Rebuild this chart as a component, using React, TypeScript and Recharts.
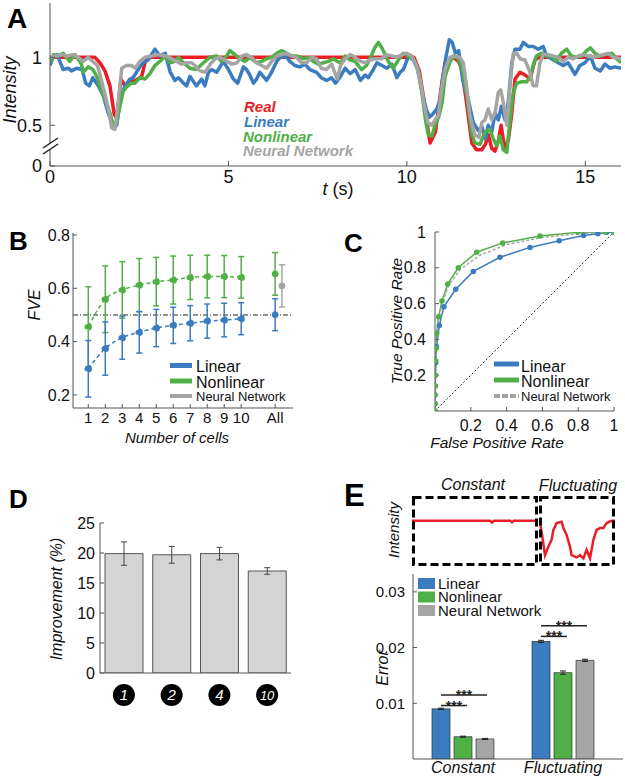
import React from "react";
import {
  BarChart,
  Bar,
  ComposedChart,
  ErrorBar,
  Line,
  LineChart,
  ReferenceLine,
  XAxis,
  YAxis,
} from "recharts";

const FONT = '"Liberation Sans", Arial, Helvetica, sans-serif';
const FRAME = "#555";
const INK = "#111";
const RED = "#ea1d25";
const BLUE = "#3b7cc0";
const GREEN = "#50b047";
const GRAY = "#a5a5a5";

// ---- A: decoded intensity traces, [time (s), intensity]
const traceTicks = [0, 5, 10, 15];

const realTrace = [
  [0, 1], [1.26, 1], [1.4, 0.96], [1.54, 0.9], [1.68, 0.79], [1.8, 0.58], [1.87, 0.55], [1.93, 0.7],
  [1.99, 0.84], [2.1, 0.79], [2.24, 0.82], [2.4, 0.83], [2.57, 0.86], [2.66, 0.96], [2.76, 1], [10.2, 1],
  [10.35, 0.9], [10.47, 0.7], [10.55, 0.54], [10.65, 0.37], [10.8, 0.45], [10.97, 0.79], [11.07, 0.96],
  [11.3, 1], [11.45, 0.97], [11.54, 0.91], [11.67, 0.67], [11.82, 0.37], [11.95, 0.32], [12.1, 0.32],
  [12.2, 0.36], [12.28, 0.43], [12.38, 0.33], [12.47, 0.31], [12.56, 0.38], [12.64, 0.5], [12.7, 0.4],
  [12.75, 0.32], [12.85, 0.4], [12.94, 0.59], [13.03, 0.84], [13.17, 0.89], [13.31, 0.87], [13.45, 0.84],
  [13.59, 0.98], [13.7, 1], [16, 1],
];

const linearTrace = [
  [0, 0.94], [0.1, 1.01], [0.2, 1.02], [0.37, 0.91], [0.51, 0.92], [0.6, 0.9], [0.75, 0.92], [0.9, 0.91],
  [1.0, 0.81], [1.1, 0.79], [1.2, 0.85], [1.33, 0.8], [1.49, 0.72], [1.63, 0.59], [1.77, 0.5], [1.87, 0.5],
  [1.96, 0.69], [2.1, 0.79], [2.24, 0.84], [2.33, 0.85], [2.47, 0.91], [2.61, 0.96], [2.75, 0.98],
  [2.94, 1.06], [3.08, 1.01], [3.23, 1.03], [3.37, 0.89], [3.5, 0.83], [3.6, 0.85], [3.74, 0.81],
  [3.83, 0.79], [3.92, 0.86], [4.1, 0.79], [4.25, 0.84], [4.34, 0.79], [4.44, 0.89], [4.53, 0.91],
  [4.67, 0.89], [4.86, 0.97], [5.0, 0.91], [5.14, 0.84], [5.26, 0.81], [5.42, 0.93], [5.51, 0.91],
  [5.6, 0.87], [5.7, 0.81], [5.79, 0.84], [5.88, 0.89], [6.07, 0.83], [6.21, 0.89], [6.35, 0.97],
  [6.49, 1.01], [6.63, 1.0], [6.72, 0.97], [6.86, 0.94], [7.0, 0.93], [7.14, 0.95], [7.28, 0.91],
  [7.47, 0.89], [7.6, 0.85], [7.75, 0.83], [7.89, 0.85], [8.0, 0.81], [8.14, 0.86], [8.27, 0.92],
  [8.41, 0.88], [8.55, 0.91], [8.7, 0.83], [8.83, 0.87], [8.92, 0.85], [9.06, 0.91], [9.16, 0.96],
  [9.3, 0.94], [9.44, 0.92], [9.58, 0.95], [9.72, 0.85], [9.81, 0.89], [9.9, 0.91], [10.05, 1.01],
  [10.18, 0.99], [10.3, 0.91], [10.43, 0.74], [10.54, 0.62], [10.63, 0.56], [10.72, 0.58], [10.84, 0.62],
  [10.93, 0.69], [11.0, 0.84], [11.1, 1.01], [11.19, 1.13], [11.27, 1.11], [11.36, 1.03], [11.45, 1.05],
  [11.56, 0.84], [11.72, 0.69], [11.86, 0.52], [12.0, 0.46], [12.1, 0.49], [12.2, 0.4], [12.28, 0.5],
  [12.38, 0.45], [12.47, 0.59], [12.56, 0.54], [12.65, 0.64], [12.75, 0.54], [12.84, 0.67], [12.94, 0.96],
  [13.03, 1.06], [13.17, 1.06], [13.26, 1.11], [13.4, 1.08], [13.54, 1.08], [13.68, 1.06], [13.82, 1.08],
  [13.91, 1.01], [14.05, 0.99], [14.24, 0.96], [14.38, 0.94], [14.52, 0.96], [14.71, 0.875], [14.85, 0.94],
  [14.99, 0.96], [15.14, 1.01], [15.27, 0.92], [15.42, 0.9], [15.55, 0.95], [15.69, 0.92], [15.83, 0.93],
  [16.0, 0.92],
];

const nonlinearTrace = [
  [0, 0.96], [0.1, 1.02], [0.23, 1.01], [0.37, 1.03], [0.55, 0.97], [0.7, 1.02], [0.88, 0.95], [0.93, 0.89],
  [1.07, 0.93], [1.2, 0.91], [1.33, 0.85], [1.43, 0.76], [1.54, 0.69], [1.68, 0.59], [1.77, 0.5],
  [1.87, 0.52], [1.96, 0.64], [2.05, 0.75], [2.14, 0.78], [2.28, 0.81], [2.38, 0.81], [2.52, 0.85],
  [2.66, 0.84], [2.8, 0.88], [2.94, 0.94], [3.08, 0.97], [3.23, 1.01], [3.37, 0.96], [3.5, 0.97],
  [3.6, 1.0], [3.74, 0.96], [3.92, 0.92], [4.1, 0.91], [4.3, 0.96], [4.48, 1.0], [4.67, 1.01], [4.8, 0.97],
  [4.95, 1.01], [5.04, 1.05], [5.18, 1.02], [5.32, 0.99], [5.46, 0.97], [5.6, 1.0], [5.79, 0.96],
  [5.93, 0.97], [6.07, 0.99], [6.21, 1.0], [6.35, 1.03], [6.49, 1.05], [6.63, 1.03], [6.77, 1.01],
  [6.91, 1.01], [7.1, 0.99], [7.24, 1.0], [7.38, 0.97], [7.52, 0.95], [7.66, 0.96], [7.8, 0.97],
  [7.94, 0.99], [8.05, 0.97], [8.13, 0.96], [8.27, 1.01], [8.41, 0.98], [8.55, 0.97], [8.73, 0.91],
  [8.87, 0.94], [9.0, 1.01], [9.1, 1.07], [9.2, 1.11], [9.3, 1.07], [9.39, 1.02], [9.48, 0.97],
  [9.62, 0.92], [9.76, 0.98], [9.9, 1.03], [10.04, 1.01], [10.18, 0.98], [10.32, 0.91], [10.43, 0.72],
  [10.52, 0.54], [10.6, 0.43], [10.7, 0.42], [10.79, 0.5], [10.9, 0.57], [10.99, 0.67], [11.07, 0.86],
  [11.2, 0.96], [11.3, 1.01], [11.44, 0.99], [11.53, 0.94], [11.63, 0.81], [11.72, 0.64], [11.81, 0.45],
  [11.9, 0.37], [12.05, 0.36], [12.19, 0.45], [12.33, 0.47], [12.42, 0.4], [12.52, 0.35], [12.61, 0.42],
  [12.7, 0.32], [12.8, 0.3], [12.89, 0.54], [12.98, 0.74], [13.08, 0.81], [13.22, 0.82], [13.36, 0.82],
  [13.45, 0.86], [13.54, 0.94], [13.63, 1.01], [13.77, 1.03], [13.91, 1.01], [14.05, 1.01], [14.19, 0.97],
  [14.33, 1.03], [14.48, 1.06], [14.61, 1.01], [14.75, 1.0], [14.9, 1.01], [15.04, 1.05], [15.14, 1.07],
  [15.27, 1.03], [15.41, 1.01], [15.55, 1.02], [15.74, 1.03], [15.88, 0.99], [16.0, 0.96],
];

const networkTrace = [
  [0, 1.0], [0.14, 1.01], [0.33, 1.02], [0.47, 1.01], [0.65, 1.02], [0.79, 1.0], [0.93, 0.97], [1.07, 1.0],
  [1.2, 0.97], [1.33, 0.94], [1.43, 0.84], [1.54, 0.73], [1.65, 0.6], [1.73, 0.48], [1.82, 0.47],
  [1.87, 0.57], [1.96, 0.79], [2.01, 0.92], [2.14, 0.94], [2.28, 0.94], [2.38, 0.92], [2.52, 0.97],
  [2.66, 1.0], [2.85, 1.01], [3.04, 1.02], [3.23, 1.01], [3.41, 0.99], [3.55, 0.97], [3.69, 0.95],
  [3.83, 0.96], [3.97, 0.96], [4.06, 0.94], [4.2, 0.9], [4.35, 0.89], [4.49, 0.95], [4.63, 0.99],
  [4.77, 1.0], [4.96, 0.97], [5.1, 0.95], [5.24, 0.96], [5.38, 1.01], [5.5, 1.02], [5.65, 1.0],
  [5.79, 0.96], [5.93, 0.94], [6.07, 0.92], [6.21, 0.97], [6.35, 1.01], [6.49, 1.02], [6.63, 1.03],
  [6.77, 1.01], [6.91, 1.0], [7.05, 0.96], [7.19, 0.96], [7.33, 1.0], [7.47, 0.99], [7.6, 0.92],
  [7.75, 0.91], [7.89, 0.95], [8.05, 0.84], [8.14, 0.94], [8.27, 0.99], [8.41, 1.02], [8.55, 1.0],
  [8.7, 0.97], [8.83, 0.96], [8.97, 0.98], [9.11, 0.99], [9.3, 0.99], [9.44, 1.02], [9.58, 1.01],
  [9.72, 1.0], [9.86, 1.02], [10.0, 1.03], [10.14, 1.01], [10.27, 0.94], [10.39, 0.81], [10.49, 0.64],
  [10.59, 0.52], [10.7, 0.5], [10.79, 0.54], [10.88, 0.57], [10.97, 0.76], [11.07, 0.91], [11.2, 1.0],
  [11.34, 1.01], [11.48, 1.0], [11.58, 0.96], [11.67, 0.79], [11.77, 0.57], [11.9, 0.43], [12.02, 0.41],
  [12.1, 0.52], [12.19, 0.54], [12.28, 0.62], [12.38, 0.54], [12.47, 0.59], [12.56, 0.74], [12.63, 0.76],
  [12.7, 0.67], [12.8, 0.5], [12.89, 0.79], [12.98, 1.03], [13.08, 1.03], [13.17, 0.99], [13.31, 0.98],
  [13.45, 0.89], [13.54, 0.79], [13.63, 0.79], [13.73, 0.96], [13.82, 1.02], [13.96, 1.02], [14.1, 1.01],
  [14.24, 1.0], [14.38, 0.97], [14.52, 1.0], [14.66, 0.99], [14.8, 1.01], [14.94, 1.02], [15.08, 1.01],
  [15.22, 1.0], [15.36, 1.01], [15.5, 1.02], [15.64, 1.03], [15.78, 1.0], [16.0, 0.99],
];

// ---- B: fraction of variance explained vs number of cells
const cellCounts = [1, 2, 3, 4, 5, 6, 7, 8, 9, 10];
const linearFve = [0.298, 0.374, 0.415, 0.435, 0.451, 0.461, 0.469, 0.477, 0.481, 0.486];
const linearFveErr = [0.106, 0.1, 0.081, 0.078, 0.07, 0.068, 0.066, 0.064, 0.063, 0.06];
const nonlinearFve = [0.456, 0.559, 0.594, 0.612, 0.625, 0.631, 0.641, 0.644, 0.644, 0.641];
const nonlinearFveErr = [0.15, 0.125, 0.106, 0.1, 0.091, 0.09, 0.083, 0.08, 0.079, 0.078];
const pooledX = [12, 12, 12.4]; // linear, nonlinear, neural network ("All")
const pooledFve = [0.501, 0.654, 0.609];
const pooledErr = [0.06, 0.08, 0.079];
const cellTicks = [1, 2, 3, 4, 5, 6, 7, 8, 9, 10, 12];

// ---- C: ROC curves, [false positive rate, true positive rate]
const linearRoc = [
  [0, 0], [0, 0.04], [0, 0.09], [0.001, 0.14], [0.002, 0.2], [0.004, 0.27], [0.008, 0.36], [0.024, 0.477],
  [0.05, 0.583], [0.116, 0.68], [0.214, 0.78], [0.363, 0.859], [0.531, 0.914], [0.694, 0.951], [0.83, 0.98],
  [0.91, 0.99], [0.96, 0.998], [1, 1],
];
const nonlinearRoc = [
  [0, 0], [0, 0.04], [0, 0.09], [0.001, 0.14], [0.002, 0.2], [0.004, 0.28], [0.007, 0.35], [0.01, 0.434],
  [0.02, 0.527], [0.039, 0.614], [0.071, 0.71], [0.13, 0.8], [0.233, 0.887], [0.378, 0.939], [0.587, 0.978],
  [0.797, 0.998], [0.95, 1], [1, 1],
];
const networkRoc = [
  [0, 0], [0.002, 0.2], [0.01, 0.42], [0.02, 0.51], [0.04, 0.6], [0.075, 0.7], [0.14, 0.79], [0.25, 0.87],
  [0.4, 0.93], [0.6, 0.97], [0.8, 0.99], [1, 1],
];
const rateTicks = [0.2, 0.4, 0.6, 0.8, 1];

// ---- D: improvement of nonlinear over linear decoder
const cellGroups = ["1", "2", "4", "10"];
const improvement = [19.9, 19.7, 19.9, 17.0];
const improvementErr = [1.95, 1.4, 1.05, 0.55];

// ---- E: decoding error by stimulus type
const stimulusTypes = ["Constant", "Fluctuating"];
const linearError = [0.009, 0.0211];
const linearErrorSem = [0.00012, 0.0002];
const nonlinearError = [0.004, 0.0155];
const nonlinearErrorSem = [0.0001, 0.0003];
const networkError = [0.0036, 0.0177];
const networkErrorSem = [0.0001, 0.0002];
const sigNear = [0.0096, 0.022];
const sigFar = [0.0115, 0.0239];
const constantStimulus = [[0, 1], [3.9, 1], [4.0, 0.96], [4.1, 1], [4.9, 1], [5.0, 0.97], [5.1, 1], [6.25, 1]];
const fluctuatingStimulus = [
  [0, 1], [0.05, 0.95], [0.13, 0.76], [0.3, 0.24], [0.47, 0.43], [0.63, 0.58], [0.72, 0.8], [0.88, 0.95],
  [1.13, 0.98], [1.22, 0.84], [1.38, 0.69], [1.55, 0.43], [1.63, 0.24], [1.88, 0.19], [2.05, 0.24],
  [2.22, 0.17], [2.38, 0.36], [2.55, 0.17], [2.72, 0.58], [2.88, 0.8], [3.05, 0.84], [3.22, 0.84],
  [3.38, 0.95], [3.63, 1.0], [3.8, 1.0],
];

const E_BAR = 18;
const E_GAP = 4;

const pts = (pairs: number[][]) => pairs.map(([t, v]) => ({ t, v }));
const rocPts = (pairs: number[][]) => pairs.map(([fpr, tpr]) => ({ fpr, tpr }));

const fveRows = cellCounts.map((n, i) => ({
  n,
  lin: linearFve[i],
  linErr: linearFveErr[i],
  non: nonlinearFve[i],
  nonErr: nonlinearFveErr[i],
}));
const pooledRows = pooledX.map((n, i) => [{ n, v: pooledFve[i], e: pooledErr[i] }]);

const improvementRows = cellGroups.map((g, i) => ({ g, imp: improvement[i], err: improvementErr[i] }));

const errorRows = stimulusTypes.map((s, i) => ({
  s,
  lin: linearError[i],
  linErr: linearErrorSem[i],
  non: nonlinearError[i],
  nonErr: nonlinearErrorSem[i],
  nn: networkError[i],
  nnErr: networkErrorSem[i],
  near: sigNear[i],
  far: sigFar[i],
}));

const tickText = (size: number) => ({ fill: INK, fontSize: size });

function CellBadge(props: any) {
  const { x, y, payload } = props;
  const label = String(payload.value);
  return (
    <g>
      <circle cx={x} cy={y + 22} r={11} fill="#000" />
      <text x={x} y={y + 22} dy={5} textAnchor="middle" fill="#fff" fontStyle="italic" fontSize={label.length > 1 ? 13 : 15}>
        {label}
      </text>
    </g>
  );
}

function LinearBarWithSig(props: any) {
  const { x, y, width, height, payload } = props;
  const base = y + height;
  const perUnit = height / payload.lin;
  const c = x + width / 2;
  const step = width + E_GAP;
  const near = base - payload.near * perUnit;
  const far = base - payload.far * perUnit;
  return (
    <g>
      <rect x={x} y={y} width={width} height={height} fill={BLUE} stroke="#333" strokeWidth={0.7} />
      <line x1={c} x2={c + step + 4} y1={near} y2={near} stroke="#222" strokeWidth={1.5} />
      <text x={c + (step + 4) / 2} y={near + 5} textAnchor="middle" fontSize={14} fontWeight="bold" fill="#222">***</text>
      <line x1={c} x2={c + 2 * step + 2} y1={far} y2={far} stroke="#222" strokeWidth={1.5} />
      <text x={c + step + 1} y={far + 5} textAnchor="middle" fontSize={14} fontWeight="bold" fill="#222">***</text>
    </g>
  );
}

function TracePanel() {
  const series = [
    { data: realTrace, color: RED },
    { data: linearTrace, color: BLUE },
    { data: nonlinearTrace, color: GREEN },
    { data: networkTrace, color: GRAY },
  ];
  return (
    <ComposedChart width={625} height={200} margin={{ top: 3, right: 4, bottom: 0, left: 0 }}>
      <XAxis dataKey="t" type="number" domain={[0, 16]} ticks={traceTicks} allowDataOverflow height={34}
        stroke={FRAME} tickSize={-5} tickMargin={9} tick={tickText(18)} />
      <XAxis xAxisId="top" orientation="top" type="number" domain={[0, 16]} ticks={[5, 10, 15]} allowDataOverflow
        height={0} stroke={FRAME} tickSize={-5} tick={false} />
      <YAxis type="number" domain={[0.2, 1.4]} ticks={[0.2, 0.5, 1]} allowDataOverflow width={50} stroke={FRAME}
        tickSize={-5} tickMargin={13} tick={tickText(18)} tickFormatter={(v) => (v === 0.2 ? "0" : String(v))} />
      <YAxis yAxisId="right" orientation="right" type="number" domain={[0.2, 1.4]} ticks={[0.5, 1]} allowDataOverflow
        width={0} stroke={FRAME} tickSize={-5} tick={false} />
      {series.map((s, i) => (
        <Line key={i} data={pts(s.data)} dataKey="v" type="linear" stroke={s.color} strokeWidth={3.5}
          strokeLinejoin="round" dot={false} isAnimationActive={false} />
      ))}
    </ComposedChart>
  );
}

function FvePanel() {
  const pooledColors = [BLUE, GREEN, GRAY];
  return (
    <ComposedChart width={300} height={230} data={fveRows} margin={{ top: 18, right: 7, bottom: 0, left: 0 }}>
      <XAxis dataKey="n" type="number" domain={[0.1, 13.05]} ticks={cellTicks} interval={0} allowDataOverflow
        height={37} stroke={FRAME} tickSize={-4} tickMargin={8} tick={tickText(15)}
        tickFormatter={(v) => (v === 12 ? "All" : String(v))} />
      <XAxis xAxisId="top" orientation="top" type="number" domain={[0.1, 13.05]} ticks={cellTicks} allowDataOverflow
        height={0} stroke={FRAME} tickSize={-4} tick={false} />
      <YAxis type="number" domain={[0.151, 0.8075]} ticks={[0.2, 0.4, 0.6, 0.8]} allowDataOverflow width={73}
        stroke={FRAME} tickSize={-4} tickMargin={7} tick={tickText(16)} tickFormatter={(v) => v.toFixed(1)} />
      <YAxis yAxisId="right" orientation="right" type="number" domain={[0.151, 0.8075]} ticks={[0.2, 0.4, 0.6, 0.8]}
        allowDataOverflow width={0} stroke={FRAME} tickSize={-4} tick={false} />
      <ReferenceLine y={0.5} stroke="#222" strokeDasharray="5 2 1 2" strokeWidth={1} />
      <Line dataKey="non" type="monotone" stroke={GREEN} strokeWidth={1.5} strokeDasharray="4 3"
        dot={{ r: 3, fill: GREEN, stroke: GREEN }} isAnimationActive={false}>
        <ErrorBar dataKey="nonErr" width={3} stroke={GREEN} strokeWidth={1.5} direction="y" />
      </Line>
      <Line dataKey="lin" type="monotone" stroke={BLUE} strokeWidth={1.5} strokeDasharray="4 3"
        dot={{ r: 3, fill: BLUE, stroke: BLUE }} isAnimationActive={false}>
        <ErrorBar dataKey="linErr" width={3} stroke={BLUE} strokeWidth={1.5} direction="y" />
      </Line>
      {pooledRows.map((rows, i) => (
        <Line key={i} data={rows} dataKey="v" stroke={pooledColors[i]} isAnimationActive={false}
          dot={{ r: 3, fill: pooledColors[i], stroke: pooledColors[i] }}>
          <ErrorBar dataKey="e" width={3} stroke={pooledColors[i]} strokeWidth={1.5} direction="y" />
        </Line>
      ))}
    </ComposedChart>
  );
}

function RocPanel() {
  return (
    <LineChart width={245} height={230} margin={{ top: 17, right: 11, bottom: 0, left: 0 }}>
      <XAxis dataKey="fpr" type="number" domain={[0, 1]} ticks={rateTicks} allowDataOverflow height={34}
        stroke={FRAME} tickSize={-4} tickMargin={13} tick={tickText(16)} tickFormatter={(v) => (v === 1 ? "1" : v.toFixed(1))} />
      <XAxis xAxisId="top" orientation="top" type="number" domain={[0, 1]} ticks={rateTicks} allowDataOverflow
        height={0} stroke={FRAME} tickSize={-4} tick={false} />
      <YAxis type="number" domain={[0, 1]} ticks={rateTicks} allowDataOverflow width={55} stroke={FRAME}
        tickSize={-4} tickMargin={13} tick={tickText(16)} tickFormatter={(v) => (v === 1 ? "1" : v.toFixed(1))} />
      <YAxis yAxisId="right" orientation="right" type="number" domain={[0, 1]} ticks={rateTicks} allowDataOverflow
        width={0} stroke={FRAME} tickSize={-4} tick={false} />
      <ReferenceLine segment={[{ x: 0, y: 0 }, { x: 1, y: 1 }]} stroke="#333" strokeDasharray="2 2" strokeWidth={1} />
      <Line data={rocPts(linearRoc)} dataKey="tpr" stroke={BLUE} strokeWidth={1.5}
        dot={{ r: 2, fill: BLUE, stroke: BLUE }} isAnimationActive={false} />
      <Line data={rocPts(nonlinearRoc)} dataKey="tpr" stroke={GREEN} strokeWidth={1.5}
        dot={{ r: 2, fill: GREEN, stroke: GREEN }} isAnimationActive={false} />
      <Line data={rocPts(networkRoc)} dataKey="tpr" stroke={GRAY} strokeWidth={1.5} strokeDasharray="3 2"
        dot={false} isAnimationActive={false} />
    </LineChart>
  );
}

function ImprovementPanel() {
  return (
    <BarChart width={260} height={215} data={improvementRows} margin={{ top: 18, right: 9, bottom: 0, left: 0 }}>
      <XAxis dataKey="g" height={47} stroke={FRAME} tickLine={false} tickSize={0} tickMargin={0} interval={0}
        tick={(p: any) => <CellBadge {...p} />} />
      <XAxis xAxisId="top" orientation="top" dataKey="g" height={0} stroke={FRAME} tickSize={-4} tick={false} />
      <YAxis type="number" domain={[0, 25]} ticks={[0, 5, 10, 15, 20, 25]} allowDataOverflow width={60}
        stroke={FRAME} tickSize={-4} tickMargin={9} tick={tickText(16)} />
      <YAxis yAxisId="right" orientation="right" type="number" domain={[0, 25]} ticks={[5, 10, 15, 20]}
        allowDataOverflow width={0} stroke={FRAME} tickSize={-4} tick={false} />
      <Bar dataKey="imp" fill="#d4d4d4" stroke="#555" strokeWidth={1} barSize={38} isAnimationActive={false}>
        <ErrorBar dataKey="err" width={3} stroke="#444" strokeWidth={1} />
      </Bar>
    </BarChart>
  );
}

function ErrorPanel() {
  return (
    <BarChart width={265} height={222} data={errorRows} margin={{ top: 14, right: 2, bottom: 0, left: 0 }}
      barSize={E_BAR} barGap={E_GAP}>
      <XAxis dataKey="s" height={23} padding={{ left: 0, right: 10 }} stroke={FRAME} tickLine={false} tickSize={0}
        tickMargin={3} interval={0} tick={{ fill: INK, fontSize: 16, fontStyle: "italic" }} />
      <XAxis xAxisId="top" orientation="top" dataKey="s" height={0} stroke={FRAME} tickLine={false} tick={false} />
      <YAxis type="number" domain={[0, 0.0332]} ticks={[0.01, 0.02, 0.03]} allowDataOverflow width={53}
        stroke={FRAME} tickSize={-4} tickMargin={12} tick={tickText(15)} tickFormatter={(v) => v.toFixed(2)} />
      <YAxis yAxisId="right" orientation="right" type="number" domain={[0, 0.0332]} ticks={[0.01, 0.02, 0.03]}
        allowDataOverflow width={0} stroke={FRAME} tickSize={-4} tick={false} />
      <Bar dataKey="lin" fill={BLUE} shape={(p: any) => <LinearBarWithSig {...p} />} isAnimationActive={false}>
        <ErrorBar dataKey="linErr" width={3} stroke="#222" strokeWidth={1} />
      </Bar>
      <Bar dataKey="non" fill={GREEN} stroke="#333" strokeWidth={0.7} isAnimationActive={false}>
        <ErrorBar dataKey="nonErr" width={3} stroke="#222" strokeWidth={1} />
      </Bar>
      <Bar dataKey="nn" fill={GRAY} stroke="#333" strokeWidth={0.7} isAnimationActive={false}>
        <ErrorBar dataKey="nnErr" width={3} stroke="#222" strokeWidth={1} />
      </Bar>
    </BarChart>
  );
}

function StimulusInset({ data, span, width }: { data: number[][]; span: number; width: number }) {
  return (
    <LineChart width={width} height={70} margin={{ top: 0, right: 0, bottom: 0, left: 0 }}>
      <XAxis dataKey="t" type="number" domain={[0, span]} hide allowDataOverflow />
      <YAxis type="number" domain={[0, 1.55]} hide allowDataOverflow />
      <Line data={pts(data)} dataKey="v" stroke={RED} strokeWidth={2.5} dot={false} isAnimationActive={false} />
    </LineChart>
  );
}

const at = (left: number, top: number): React.CSSProperties => ({ position: "absolute", left, top });

function Overlay() {
  const it = { fontStyle: "italic" as const, fill: INK };
  const letter = { fontWeight: 700, fill: "#000" };
  return (
    <svg width={625} height={782} style={{ position: "absolute", left: 0, top: 0, pointerEvents: "none" }}>
      {/* panel letters */}
      <text x={7} y={28} fontSize={28} {...letter}>A</text>
      <text x={9} y={250} fontSize={26} {...letter}>B</text>
      <text x={344} y={252} fontSize={26} {...letter}>C</text>
      <text x={9} y={508} fontSize={26} {...letter}>D</text>
      <text x={344} y={506} fontSize={31} {...letter}>E</text>

      {/* A */}
      <text x={16} y={90} fontSize={18} textAnchor="middle" transform="rotate(-90 16 90)" {...it}>Intensity</text>
      <text x={338} y={195} fontSize={18} textAnchor="middle" fill={INK}>
        <tspan fontStyle="italic">t</tspan> (s)
      </text>
      <g fontSize={15} fontWeight={700} fontStyle="italic">
        <text x={244} y={112} fill={RED}>Real</text>
        <text x={244} y={127} fill={BLUE}>Linear</text>
        <text x={243} y={141.5} fill={GREEN}>Nonlinear</text>
        <text x={243} y={156} fill={GRAY}>Neural Network</text>
      </g>
      <polygon points="43,148 58,138 58,144 43,154" fill="#fff" />
      <line x1={43} y1={148} x2={58} y2={138} stroke="#222" strokeWidth={1.5} />
      <line x1={43} y1={154} x2={58} y2={144} stroke="#222" strokeWidth={1.5} />

      {/* B */}
      <text x={40} y={305} fontSize={16} textAnchor="middle" transform="rotate(-90 40 305)" {...it}>FVE</text>
      <text x={177} y={443} fontSize={15} textAnchor="middle" {...it}>Number of cells</text>
      <line x1={170} x2={192} y1={365.5} y2={365.5} stroke={BLUE} strokeWidth={5} />
      <line x1={170} x2={192} y1={381} y2={381} stroke={GREEN} strokeWidth={5} />
      <line x1={170} x2={192} y1={396} y2={396} stroke={GRAY} strokeWidth={4} />
      <text x={196} y={372} fontSize={16} fill={INK}>Linear</text>
      <text x={196} y={388} fontSize={16} fill={INK}>Nonlinear</text>
      <text x={196} y={401} fontSize={13} fill={INK}>Neural Network</text>

      {/* C */}
      <text x={402} y={321} fontSize={15.5} textAnchor="middle" transform="rotate(-90 402 321)" {...it}>True Positive Rate</text>
      <text x={497} y={448} fontSize={15.5} textAnchor="middle" {...it}>False Positive Rate</text>
      <line x1={494} x2={519} y1={364} y2={364} stroke={BLUE} strokeWidth={5} />
      <line x1={494} x2={519} y1={380} y2={380} stroke={GREEN} strokeWidth={5} />
      <line x1={494} x2={519} y1={396} y2={396} stroke={GRAY} strokeWidth={4} strokeDasharray="6 2" />
      <text x={521} y={371.5} fontSize={16} fill={INK}>Linear</text>
      <text x={521} y={387} fontSize={16} fill={INK}>Nonlinear</text>
      <text x={521} y={401} fontSize={13} fill={INK}>Neural Network</text>

      {/* D */}
      <text x={62} y={599} fontSize={16} textAnchor="middle" transform="rotate(-90 62 599)" {...it}>Improvement (%)</text>

      {/* E */}
      <text x={473} y={490} fontSize={16} textAnchor="middle" {...it}>Constant</text>
      <text x={578} y={491} fontSize={16} textAnchor="middle" {...it}>Fluctuating</text>
      <text x={399} y={530} fontSize={15} textAnchor="middle" transform="rotate(-90 399 530)" {...it}>Intensity</text>
      <rect x={413.5} y={497.5} width={123} height={67} fill="none" stroke="#000" strokeWidth={3} strokeDasharray="8 4" />
      <rect x={540.5} y={497.5} width={73} height={67} fill="none" stroke="#000" strokeWidth={3} strokeDasharray="8 4" />
      <text x={388} y={668} fontSize={16} textAnchor="middle" transform="rotate(-90 388 668)" {...it}>Error</text>
      <rect x={418} y={578} width={17} height={11} fill={BLUE} />
      <rect x={418} y={591.5} width={17} height={11} fill={GREEN} />
      <rect x={418} y={605} width={17} height={11} fill={GRAY} />
      <text x={438} y={588.5} fontSize={15} fill={INK}>Linear</text>
      <text x={438} y={602} fontSize={15} fill={INK}>Nonlinear</text>
      <text x={438} y={615.5} fontSize={15} fill={INK}>Neural Network</text>
    </svg>
  );
}

export default function App() {
  return (
    <div style={{ position: "absolute", left: 0, top: 0, width: 625, height: 782, background: "#fff", fontFamily: FONT }}>
      <div style={at(0, 0)}><TracePanel /></div>
      <div style={at(0, 215)}><FvePanel /></div>
      <div style={at(380, 215)}><RocPanel /></div>
      <div style={at(40, 505)}><ImprovementPanel /></div>
      <div style={at(412, 496)}><StimulusInset data={constantStimulus} span={6.25} width={125} /></div>
      <div style={at(539, 496)}><StimulusInset data={fluctuatingStimulus} span={3.8} width={76} /></div>
      <div style={at(360, 560)}><ErrorPanel /></div>
      <Overlay />
    </div>
  );
}
